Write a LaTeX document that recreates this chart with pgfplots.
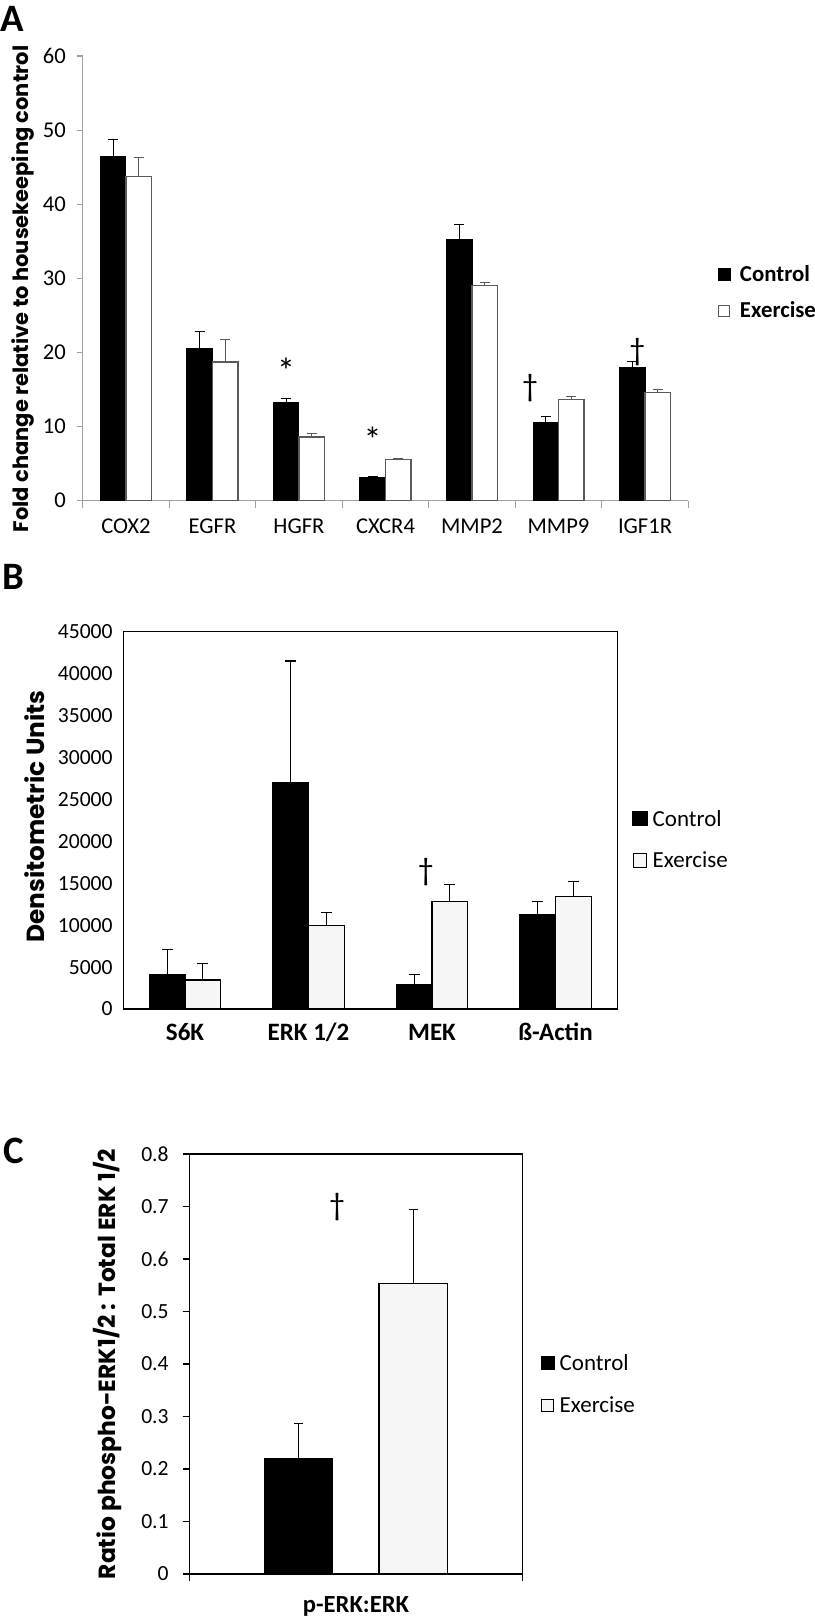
\documentclass[border=0pt]{standalone}
\usepackage{pgfplots}
\pgfplotsset{compat=1.18}
\usepackage{fontspec}
\setmainfont{Carlito}
\newfontfamily\labfont{Poppins}
\definecolor{axgray}{RGB}{160,160,160}
\definecolor{exfill}{RGB}{246,246,246}
\definecolor{exedge}{RGB}{90,90,90}
\begin{document}
\begin{tikzpicture}
\useasboundingbox (0,0) rectangle (407.5bp,808.5bp);
\node[anchor=base west, inner sep=0pt, font=\fontsize{19.4bp}{20bp}\selectfont\bfseries] at (0bp,792.5bp) {A};
\node[anchor=base west, inner sep=0pt, font=\fontsize{19.4bp}{20bp}\selectfont\bfseries] at (1bp,513.5bp) {B};
\node[anchor=base west, inner sep=0pt, font=\fontsize{19.4bp}{20bp}\selectfont\bfseries] at (1.5bp,226.5bp) {C};

% ---------------- Panel A
\begin{axis}[
  at={(41.35bp,558.15bp)}, anchor=south west,
  scale only axis, width=302.8bp, height=222.35bp,
  xmin=-0.5, xmax=6.5, ymin=0, ymax=60,
  axis lines*=left,
  axis line style={axgray, line width=0.6bp},
  ytick={0,10,...,60},
  xtick={0,...,6},
  xticklabels={COX2,EGFR,HGFR,CXCR4,MMP2,MMP9,IGF1R},
  minor xtick={-0.5,0.5,...,6.5},
  tick align=outside,
  major tick length=3bp, minor tick length=3.5bp,
  major x tick style={draw=none},
  minor x tick style={axgray, line width=0.6bp},
  y tick style={axgray, line width=0.6bp},
  /pgf/number format/assume math mode=true,
  tick label style={font=\fontsize{11.3bp}{12bp}\selectfont},
  xticklabel style={anchor=base, inner sep=0pt, yshift=-13.2bp},
  yticklabel style={anchor=east, inner sep=0pt, xshift=-5.2bp},
  ylabel={Fold change relative to housekeeping control},
  every axis y label/.style={at={(axis description cs:-0.0986,0.476)}, rotate=90, anchor=center,
     font=\labfont\fontsize{10.5bp}{12bp}\selectfont\bfseries},
  ybar, bar width=0.295,
  legend style={at={(axis description cs:1.049,0.469)}, anchor=west, draw=none, fill=none,
     inner sep=0pt, outer sep=0pt, row sep=10.75bp, column sep=4.5bp,
     font=\fontsize{11.4bp}{12bp}\selectfont\bfseries,
     nodes={inner sep=0pt, text height=7.5bp, text depth=0bp}},
  legend cell align=left,
]
\addplot[bar shift=-0.1475, fill=black, draw=black, line width=0.5bp,
  legend image code/.code={\fill[black] (0bp,-3.2bp) rectangle (6bp,2.8bp);},
  error bars/.cd, y dir=plus, y explicit,
  error bar style={black, line width=0.5bp},
  error mark options={rotate=90, mark size=2.5bp, black, line width=0.5bp}]
coordinates {(0,46.4) +- (0,2.4) (1,20.6) +- (0,2.2) (2,13.2) +- (0,0.6) (3,3.1) +- (0,0.15)
 (4,35.3) +- (0,2.0) (5,10.6) +- (0,0.7) (6,18.0) +- (0,0.8)};
\addlegendentry{Control}
\addplot[bar shift=0.1475, fill=white, draw=exedge, line width=0.6bp,
  legend image code/.code={\draw[exedge, line width=0.5bp, fill=white] (0.25bp,-2.95bp) rectangle (5.75bp,2.55bp);},
  error bars/.cd, y dir=plus, y explicit,
  error bar style={exedge, line width=0.5bp},
  error mark options={rotate=90, mark size=2.5bp, exedge, line width=0.5bp}]
coordinates {(0,43.7) +- (0,2.6) (1,18.7) +- (0,3.0) (2,8.6) +- (0,0.5) (3,5.6) +- (0,0.15)
 (4,29.0) +- (0,0.45) (5,13.6) +- (0,0.5) (6,14.6) +- (0,0.35)};
\addlegendentry{Exercise}
\node[font=\fontsize{18bp}{19bp}\selectfont] at (axis cs:1.85,17.6) {*};
\node[font=\fontsize{18bp}{19bp}\selectfont] at (axis cs:2.85,8.2) {*};
\node[font=\fontsize{16bp}{17bp}\selectfont] at (axis cs:4.67,15.2) {†};
\node[font=\fontsize{16bp}{17bp}\selectfont] at (axis cs:5.91,20.1) {†};
\end{axis}

% ---------------- Panel B
\begin{axis}[
  at={(61.65bp,304bp)}, anchor=south west,
  scale only axis, width=247bp, height=188.65bp,
  xmin=-0.5, xmax=3.5, ymin=0, ymax=45000,
  axis line style={black, line width=0.6bp},
  ytick={0,5000,...,45000},
  scaled y ticks=false,
  yticklabel style={/pgf/number format/fixed, /pgf/number format/1000 sep={}},
  xtick={0,...,3},
  xticklabels={S6K,ERK 1/2,MEK,ß-Actin},
  major tick length=0pt,
  /pgf/number format/assume math mode=true,
  tick label style={font=\fontsize{10.8bp}{12bp}\selectfont},
  xticklabel style={anchor=base, inner sep=0pt, yshift=-15.95bp, font=\fontsize{12.5bp}{14bp}\selectfont\bfseries},
  yticklabel style={anchor=east, inner sep=0pt, xshift=-5.15bp},
  ylabel={Densitometric Units},
  every axis y label/.style={at={(axis description cs:-0.1787,0.5097)}, rotate=90, anchor=center,
     font=\labfont\fontsize{12.4bp}{14bp}\selectfont\bfseries},
  ybar, bar width=0.288,
  legend style={at={(axis description cs:1.0298,0.450)}, anchor=west, draw=none, fill=none,
     inner sep=0pt, outer sep=0pt, row sep=13.35bp, column sep=2.5bp,
     font=\fontsize{11.5bp}{12bp}\selectfont,
     nodes={inner sep=0pt, text height=7.5bp, text depth=0bp}},
  legend cell align=left,
]
\addplot[bar shift=-0.144, fill=black, draw=black, line width=0.6bp,
  legend image code/.code={\fill[black] (0bp,-3.55bp) rectangle (7.25bp,3.7bp);},
  error bars/.cd, y dir=plus, y explicit,
  error bar style={black, line width=0.6bp},
  error mark options={rotate=90, mark size=2.75bp, black, line width=0.6bp}]
coordinates {(0,4100) +- (0,3000) (1,27000) +- (0,14500) (2,2860) +- (0,1300) (3,11200) +- (0,1600)};
\addlegendentry{Control}
\addplot[bar shift=0.144, fill=exfill, draw=black, line width=0.6bp,
  legend image code/.code={\draw[black, line width=0.5bp, fill=exfill] (0.25bp,-3.3bp) rectangle (7bp,3.45bp);},
  error bars/.cd, y dir=plus, y explicit,
  error bar style={black, line width=0.6bp},
  error mark options={rotate=90, mark size=2.75bp, black, line width=0.6bp}]
coordinates {(0,3460) +- (0,1980) (1,9930) +- (0,1550) (2,12790) +- (0,2100) (3,13460) +- (0,1790)};
\addlegendentry{Exercise}
\node[font=\fontsize{16bp}{17bp}\selectfont] at (axis cs:1.95,16360) {†};
\end{axis}

% ---------------- Panel C
\begin{axis}[
  at={(94.65bp,21.5bp)}, anchor=south west,
  scale only axis, width=166.7bp, height=210bp,
  xmin=0, xmax=1, ymin=0, ymax=0.8,
  axis line style={black, line width=0.6bp},
  ytick={0,0.1,...,0.8},
  yticklabels={0,0.1,0.2,0.3,0.4,0.5,0.6,0.7,0.8},
  xtick={0,1}, xticklabels={,},
  tick align=outside,
  major tick length=3.35bp,
  tick style={black, line width=0.6bp},
  ytick pos=left, xtick pos=bottom,
  tick label style={font=\fontsize{10.8bp}{12bp}\selectfont},
  yticklabel style={anchor=east, inner sep=0pt, xshift=-6.8bp},
  xlabel={p-ERK:ERK},
  every axis x label/.style={at={(axis description cs:0.5,-0.0905)}, anchor=base,
     font=\fontsize{12.3bp}{14bp}\selectfont\bfseries},
  ylabel={Ratio phospho-ERK1/2 : Total ERK 1/2},
  every axis y label/.style={at={(axis description cs:-0.2439,0.5)}, rotate=90, anchor=center,
     font=\labfont\fontsize{11.7bp}{14bp}\selectfont\bfseries},
  ybar, bar width=0.2058,
  legend style={at={(axis description cs:1.0534,0.4524)}, anchor=west, draw=none, fill=none,
     inner sep=0pt, outer sep=0pt, row sep=13.5bp, column sep=2.5bp,
     font=\fontsize{11.5bp}{12bp}\selectfont,
     nodes={inner sep=0pt, text height=7.5bp, text depth=0bp}},
  legend cell align=left,
]
\addplot[bar shift=0pt, fill=black, draw=black, line width=0.6bp,
  legend image code/.code={\fill[black] (0bp,-3.3bp) rectangle (6.5bp,3.2bp);},
  error bars/.cd, y dir=plus, y explicit,
  error bar style={black, line width=0.6bp},
  error mark options={rotate=90, mark size=2.3bp, black, line width=0.6bp}]
coordinates {(0.3275,0.219) +- (0,0.067)};
\addlegendentry{Control}
\addplot[bar shift=0pt, fill=exfill, draw=black, line width=0.6bp,
  legend image code/.code={\draw[black, line width=0.5bp, fill=exfill] (0.25bp,-3.05bp) rectangle (6.25bp,2.95bp);},
  error bars/.cd, y dir=plus, y explicit,
  error bar style={black, line width=0.6bp},
  error mark options={rotate=90, mark size=2.3bp, black, line width=0.6bp}]
coordinates {(0.672,0.553) +- (0,0.141)};
\addlegendentry{Exercise}
\node[font=\fontsize{16bp}{17bp}\selectfont] at (axis cs:0.443,0.698) {†};
\end{axis}
\end{tikzpicture}
\end{document}
